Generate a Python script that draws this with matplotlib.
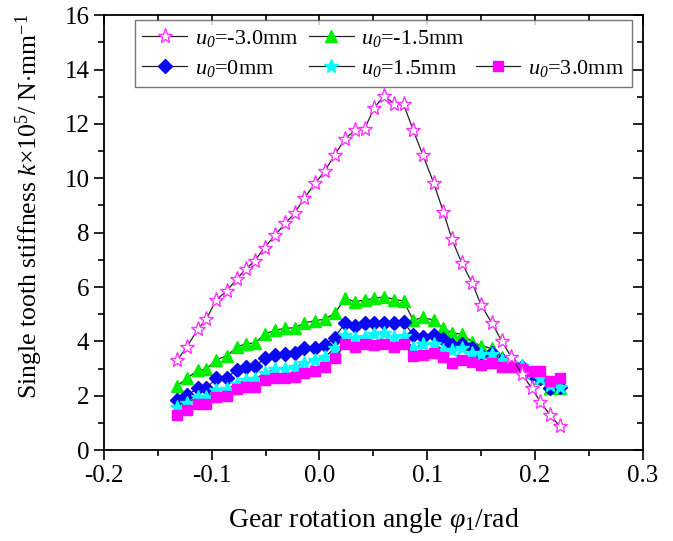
import matplotlib
matplotlib.use('Agg')
import matplotlib.pyplot as plt
from matplotlib.lines import Line2D
from matplotlib.ticker import MultipleLocator, FormatStrFormatter

plt.rcParams['font.family'] = 'Liberation Serif'
plt.rcParams['mathtext.fontset'] = 'custom'
plt.rcParams['mathtext.rm'] = 'Liberation Serif'
plt.rcParams['mathtext.it'] = 'Liberation Serif:italic'
plt.rcParams['mathtext.sf'] = 'Liberation Serif:italic'
plt.rcParams['axes.unicode_minus'] = False

# gear rotation angle (rad), shared by all curves
phi = [-0.132, -0.123, -0.113, -0.105, -0.096, -0.086, -0.077, -0.068, -0.060, -0.051,
       -0.041, -0.032, -0.023, -0.014, -0.004, 0.005, 0.014, 0.024, 0.033, 0.042,
       0.051, 0.060, 0.069, 0.078, 0.087, 0.096, 0.106, 0.115, 0.123, 0.132,
       0.142, 0.150, 0.160, 0.169, 0.178, 0.188, 0.197, 0.205, 0.214, 0.223]

k_m30 = [3.31, 3.80, 4.44, 4.81, 5.52, 5.86, 6.28, 6.68, 6.96, 7.45,
         7.91, 8.34, 8.71, 9.28, 9.81, 10.27, 10.85, 11.46, 11.77, 11.83,
         12.60, 13.03, 12.75, 12.73, 11.77, 10.85, 9.83, 8.76, 7.75, 6.89,
         6.13, 5.33, 4.68, 4.02, 3.43, 2.80, 2.27, 1.78, 1.29, 0.88]

k_m15 = [2.37, 2.64, 2.94, 2.97, 3.33, 3.46, 3.78, 3.92, 3.93, 4.27,
         4.41, 4.48, 4.50, 4.68, 4.76, 4.82, 5.03, 5.58, 5.46, 5.52,
         5.58, 5.64, 5.54, 5.49, 4.78, 4.88, 4.78, 4.48, 4.31, 4.27,
         3.98, 3.84, 3.74, 3.41, 3.31, 3.13, 2.88, 2.64, 2.27, 2.27]

k_0 = [1.84, 2.02, 2.27, 2.27, 2.64, 2.67, 2.94, 3.06, 3.08, 3.37,
       3.49, 3.53, 3.58, 3.74, 3.74, 3.86, 4.14, 4.68, 4.57, 4.68,
       4.66, 4.66, 4.66, 4.72, 4.23, 4.17, 4.23, 4.07, 3.86, 3.90,
       3.74, 3.49, 3.56, 3.31, 3.19, 3.06, 2.80, 2.64, 2.27, 2.31]

k_p15 = [1.57, 1.74, 1.94, 1.96, 2.21, 2.23, 2.45, 2.57, 2.60, 2.84,
         2.97, 3.00, 3.04, 3.21, 3.33, 3.43, 3.74, 4.23, 4.11, 4.17,
         4.27, 4.29, 4.17, 4.19, 3.74, 3.90, 3.90, 3.70, 3.70, 3.74,
         3.56, 3.52, 3.53, 3.33, 3.19, 3.09, 2.88, 2.67, 2.39, 2.31]

k_p30 = [1.29, 1.47, 1.68, 1.68, 1.94, 1.99, 2.23, 2.31, 2.31, 2.57,
         2.64, 2.67, 2.70, 2.84, 2.92, 3.06, 3.37, 3.90, 3.78, 3.92,
         3.86, 3.90, 3.80, 3.90, 3.46, 3.49, 3.56, 3.41, 3.21, 3.33,
         3.25, 3.13, 3.21, 3.04, 3.06, 3.00, 2.92, 2.92, 2.55, 2.64]

fig = plt.figure(figsize=(6.73, 5.41), dpi=100)
ax = fig.add_axes([0.1545, 0.168, 0.8005, 0.804])

lc = '#222222'
h1, = ax.plot(phi, k_m15, '-', color=lc, lw=0.9, marker='^', ms=9, mfc='#00ee00', mec='#00ee00',
              label=r'$u_{\mathsf{0}}$=-1.5mm')
h2, = ax.plot(phi, k_0, '-', color=lc, lw=0.9, marker='D', ms=7.5, mfc='#0a0af0', mec='#0a0af0',
              label=r'$u_{\mathsf{0}}$=0mm')
h3, = ax.plot(phi, k_p15, '-', color=lc, lw=0.9, marker='*', ms=10, mfc='#00ffff', mec='#00ffff',
              label=r'$u_{\mathsf{0}}$=1.5mm')
h4, = ax.plot(phi, k_p30, '-', color=lc, lw=0.9, marker='s', ms=7.5, mfc='#ff00ff', mec='#ff00ff',
              label=r'$u_{\mathsf{0}}$=3.0mm')
h0, = ax.plot(phi, k_m30, '-', color=lc, lw=0.9, marker='*', ms=11, mfc='white', mec='#ff33ff',
              mew=1.0, label=r'$u_{\mathsf{0}}$=-3.0mm')

blank = Line2D([], [], linestyle='none', marker='none')
handles = [h0, h2, h1, h3, blank, h4]
labels = [h0.get_label(), h2.get_label(), h1.get_label(), h3.get_label(), '', h4.get_label()]
leg = ax.legend(handles, labels, ncol=3, loc='upper left', bbox_to_anchor=(0.057, 0.988),
                fontsize=16, frameon=True, fancybox=False, edgecolor='#555555',
                handlelength=2.0, handletextpad=0.35, columnspacing=0.5,
                borderpad=0.35, labelspacing=0.4, borderaxespad=0.0)
leg.get_frame().set_linewidth(1.0)

ax.set_xlim(-0.2, 0.3)
ax.set_ylim(0, 16)
ax.xaxis.set_major_locator(MultipleLocator(0.1))
ax.xaxis.set_minor_locator(MultipleLocator(0.05))
ax.yaxis.set_major_locator(MultipleLocator(2))
ax.yaxis.set_minor_locator(MultipleLocator(1))
ax.xaxis.set_major_formatter(FormatStrFormatter('%.1f'))

ax.tick_params(which='both', direction='out', labelsize=18, width=1.2, top=True, right=True)
ax.tick_params(which='major', length=7)
ax.tick_params(which='minor', length=4)
for t in ax.xaxis.get_ticklines(minor=False)[1::2] + ax.xaxis.get_ticklines(minor=True)[1::2]:
    t.set_marker(matplotlib.markers.TICKDOWN)
for t in ax.yaxis.get_ticklines(minor=False)[1::2] + ax.yaxis.get_ticklines(minor=True)[1::2]:
    t.set_marker(matplotlib.markers.TICKLEFT)
for s in ax.spines.values():
    s.set_linewidth(1.3)

ax.set_xlabel(r'Gear rotation angle $\varphi_1$/rad', fontsize=20)
ax.xaxis.set_label_coords(0.5, -0.128)
ax.set_ylabel(r'Single tooth stiffness $k$$\times$10$^5$/ N$\cdot$mm$^{-1}$', fontsize=18.5)
ax.yaxis.set_label_coords(-0.11, 0.56)

fig.savefig('out.png', dpi=100)
